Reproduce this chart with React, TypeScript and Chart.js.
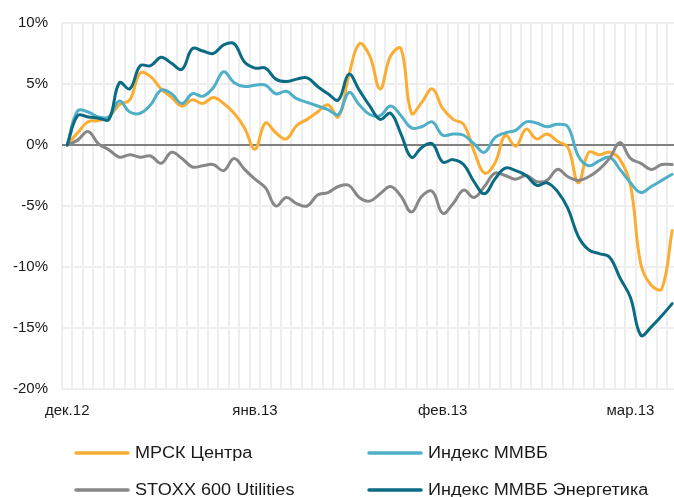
import { useEffect, useRef } from 'react';
import { Chart, registerables } from 'chart.js';

Chart.register(...registerables);

// ---- data ----
const monthLabels = ['дек.12', 'янв.13', 'фев.13', 'мар.13'];
const monthPositions = [0, 18, 36, 54];
const pointCount = 59;

const mrskCentra = [
  0, 1.0, 1.9, 2.0, 2.3, 3.3, 3.7, 5.9, 5.6, 4.6,
  3.9, 3.2, 3.7, 3.4, 3.9, 3.4, 2.6, 1.4, -0.35, 1.8,
  1.0, 0.5, 1.6, 2.1, 2.7, 3.3, 2.3, 5.7, 8.3, 7.3,
  4.6, 7.3, 7.9, 2.6, 3.5, 4.6, 3.0, 2.1, 1.7, -0.5,
  -2.3, -1.5, 0.8, -0.1, 1.3, 0.5, 0.9, 0.3, -0.2, -3.1,
  -0.6, -0.8, -0.6, -1.2, -3.3, -9.8, -11.5, -11.8, -7.0,
];

const micexIndex = [
  0, 2.8, 2.7, 2.3, 2.3, 3.6, 2.7, 2.6, 3.3, 4.5,
  4.2, 3.4, 4.2, 4.0, 4.7, 6.0, 5.1, 4.8, 4.9, 4.9,
  4.2, 4.4, 3.8, 3.5, 3.2, 2.9, 2.5, 4.3, 3.3, 2.5,
  2.4, 3.2, 2.4, 1.4, 1.5, 1.9, 0.8, 0.9, 0.8, 0.1,
  -0.6, 0.6, 1.0, 1.2, 1.9, 1.8, 1.5, 1.7, 1.5, -0.9,
  -1.7, -1.3, -1.0, -2.0, -3.1, -3.9, -3.4, -2.9, -2.4,
];

const stoxxUtilities = [
  0, 0.4, 1.1, 0.1, -0.4, -1.0, -0.8, -1.0, -0.9, -1.5,
  -0.6, -1.1, -1.8, -1.7, -1.6, -2.1, -1.1, -2.0, -2.8, -3.5,
  -5.0, -4.3, -4.8, -5.0, -4.1, -3.9, -3.4, -3.3, -4.3, -4.6,
  -4.0, -3.4, -4.2, -5.5, -4.2, -3.8, -5.6, -4.8, -3.7, -4.3,
  -3.4, -2.3, -2.5, -2.8, -2.5, -3.0, -2.9, -2.0, -2.6, -2.9,
  -2.6, -2.0, -1.1, 0.2, -1.1, -1.5, -2.0, -1.6, -1.6,
];

const micexPower = [
  0, 2.4, 2.3, 2.2, 2.1, 5.1, 4.6, 6.5, 6.5, 7.2,
  6.7, 6.2, 7.9, 7.7, 7.5, 8.2, 8.3, 6.8, 6.3, 6.3,
  5.4, 5.2, 5.4, 5.5, 4.8, 4.2, 3.7, 5.8, 4.5, 3.2,
  2.1, 2.6, 0.9, -1.0, -0.2, 0.1, -1.4, -1.2, -1.6, -3.0,
  -4.0, -2.8, -1.9, -2.1, -2.5, -3.3, -3.1, -3.8, -5.2, -7.5,
  -8.6, -8.9, -9.2, -10.9, -12.5, -15.6, -14.9, -14.0, -13.0,
];

const seriesNames = ['МРСК Центра', 'Индекс ММВБ', 'STOXX 600 Utilities', 'Индекс ММВБ Энергетика'];
const seriesColors = ['#FBAD33', '#4FAFC7', '#878787', '#0A6B83'];
const yMin = -20;
const yMax = 10;
const yStep = 5;

const categories: string[] = [];
for (let i = 0; i < pointCount; i++) {
  const m = monthPositions.indexOf(i);
  categories.push(m >= 0 ? monthLabels[m] : '');
}

const FONT = '"Liberation Sans", Arial, sans-serif';

const legendPlugin = {
  id: 'customLegend',
  afterDraw(chart: any) {
    const ctx = chart.ctx as CanvasRenderingContext2D;
    const slots = [
      { x: 76, y: 453 },
      { x: 369, y: 453 },
      { x: 76, y: 490 },
      { x: 369, y: 490 },
    ];
    ctx.save();
    slots.forEach((s, i) => {
      ctx.strokeStyle = seriesColors[i];
      ctx.lineWidth = 3.5;
      ctx.lineCap = 'round';
      ctx.beginPath();
      ctx.moveTo(s.x, s.y);
      ctx.lineTo(s.x + 52, s.y);
      ctx.stroke();
      ctx.save();
      ctx.translate(s.x + 59, s.y + 1);
      ctx.scale(1.13, 1);
      ctx.font = '16px ' + FONT;
      ctx.fillStyle = '#1a1a1a';
      ctx.textAlign = 'left';
      ctx.textBaseline = 'middle';
      ctx.fillText(seriesNames[i], 0, 0);
      ctx.restore();
    });
    ctx.restore();
  },
};

export default function App() {
  const ref = useRef<HTMLCanvasElement | null>(null);

  useEffect(() => {
    if (!ref.current) return;
    const seriesData = [mrskCentra, micexIndex, stoxxUtilities, micexPower];
    const chart = new Chart(ref.current, {
      type: 'line',
      data: {
        labels: categories,
        datasets: seriesData.map((d, i) => ({
          label: seriesNames[i],
          data: d,
          borderColor: seriesColors[i],
          backgroundColor: seriesColors[i],
          borderWidth: 3,
          pointRadius: 0,
          tension: 0.4,
          fill: false,
          borderCapStyle: 'round' as const,
          borderJoinStyle: 'round' as const,
          order: 4 - i,
        })),
      },
      options: {
        responsive: false,
        animation: false,
        layout: { padding: { left: 0, right: 12.6, top: 22, bottom: 64 } },
        plugins: {
          legend: { display: false },
          tooltip: { enabled: false },
        },
        scales: {
          x: {
            type: 'category',
            offset: true,
            grid: { offset: true, color: '#eeeeee', lineWidth: 2, drawTicks: false },
            border: { display: false },
            ticks: {
              autoSkip: false,
              maxRotation: 0,
              minRotation: 0,
              padding: 13,
              color: '#1a1a1a',
              font: { family: FONT, size: 15 },
              callback: (_v: any, i: number) => categories[i],
            },
          },
          y: {
            min: yMin,
            max: yMax,
            grid: {
              color: (c: any) => (c.tick && c.tick.value === 0 ? '#808080' : '#eeeeee'),
              lineWidth: 2,
              drawTicks: false,
            },
            border: { display: false },
            ticks: {
              stepSize: yStep,
              padding: 14,
              color: '#1a1a1a',
              font: { family: FONT, size: 15 },
              callback: (v: any) => v + '%',
            },
            afterFit: (s: any) => {
              s.width = 62;
            },
          },
        },
      },
      plugins: [legendPlugin],
    });
    return () => chart.destroy();
  }, []);

  return (
    <div
      style={{
        position: 'absolute',
        left: 0,
        top: 0,
        width: 674,
        height: 497,
        overflow: 'hidden',
        background: '#fff',
      }}
    >
      <canvas ref={ref} width={690} height={497} style={{ display: 'block' }} />
    </div>
  );
}
